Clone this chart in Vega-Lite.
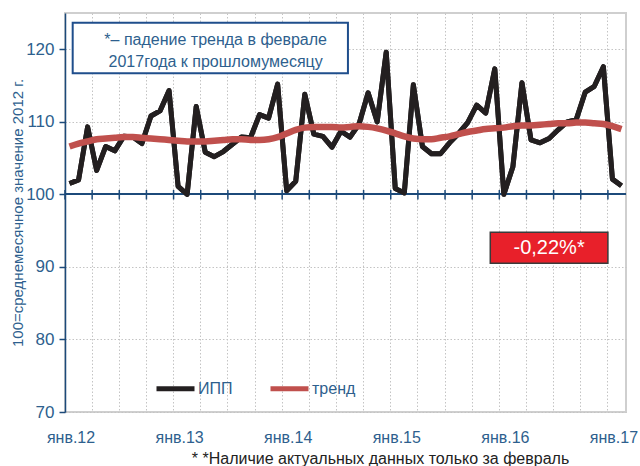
{
  "$schema": "https://vega.github.io/schema/vega-lite/v6.json",
  "width": 561,
  "height": 399,
  "autosize": {"type": "none"},
  "padding": {"left": 65, "top": 13, "right": 14, "bottom": 54},
  "background": "white",
  "config": {
    "font": "Liberation Sans",
    "view": {"stroke": "#cfcfcf", "strokeWidth": 2}
  },
  "title": {
    "text": "*  *Наличие актуальных данных только за февраль",
    "orient": "bottom",
    "anchor": "middle",
    "baseline": "top",
    "fontSize": 16,
    "fontWeight": "normal",
    "color": "#222222",
    "offset": 6,
    "dx": 35
  },
  "data": {
    "values": [
      {"month": "2012-01", "ipp": 101.5, "trend": 106.6},
      {"month": "2012-02", "ipp": 102.0, "trend": 107.0},
      {"month": "2012-03", "ipp": 109.3, "trend": 107.3},
      {"month": "2012-04", "ipp": 103.3, "trend": 107.6},
      {"month": "2012-05", "ipp": 106.6, "trend": 107.7},
      {"month": "2012-06", "ipp": 106.0, "trend": 107.8},
      {"month": "2012-07", "ipp": 108.0, "trend": 107.9},
      {"month": "2012-08", "ipp": 107.9, "trend": 107.9},
      {"month": "2012-09", "ipp": 107.0, "trend": 107.8},
      {"month": "2012-10", "ipp": 110.8, "trend": 107.7},
      {"month": "2012-11", "ipp": 111.5, "trend": 107.6},
      {"month": "2012-12", "ipp": 114.3, "trend": 107.5},
      {"month": "2013-01", "ipp": 101.1, "trend": 107.4},
      {"month": "2013-02", "ipp": 100.0, "trend": 107.3},
      {"month": "2013-03", "ipp": 112.1, "trend": 107.3},
      {"month": "2013-04", "ipp": 105.8, "trend": 107.3},
      {"month": "2013-05", "ipp": 105.2, "trend": 107.4},
      {"month": "2013-06", "ipp": 105.9, "trend": 107.5},
      {"month": "2013-07", "ipp": 106.9, "trend": 107.6},
      {"month": "2013-08", "ipp": 107.9, "trend": 107.6},
      {"month": "2013-09", "ipp": 107.8, "trend": 107.5},
      {"month": "2013-10", "ipp": 111.0, "trend": 107.5},
      {"month": "2013-11", "ipp": 110.5, "trend": 107.6},
      {"month": "2013-12", "ipp": 115.2, "trend": 107.9},
      {"month": "2014-01", "ipp": 100.5, "trend": 108.4},
      {"month": "2014-02", "ipp": 101.8, "trend": 108.9},
      {"month": "2014-03", "ipp": 113.8, "trend": 109.2},
      {"month": "2014-04", "ipp": 108.3, "trend": 109.3},
      {"month": "2014-05", "ipp": 108.0, "trend": 109.3},
      {"month": "2014-06", "ipp": 106.5, "trend": 109.3},
      {"month": "2014-07", "ipp": 108.7, "trend": 109.2},
      {"month": "2014-08", "ipp": 107.9, "trend": 109.3},
      {"month": "2014-09", "ipp": 109.7, "trend": 109.4},
      {"month": "2014-10", "ipp": 114.0, "trend": 109.3},
      {"month": "2014-11", "ipp": 110.0, "trend": 109.1},
      {"month": "2014-12", "ipp": 119.6, "trend": 108.8},
      {"month": "2015-01", "ipp": 100.8, "trend": 108.4},
      {"month": "2015-02", "ipp": 100.2, "trend": 108.0},
      {"month": "2015-03", "ipp": 115.1, "trend": 107.7},
      {"month": "2015-04", "ipp": 106.6, "trend": 107.6},
      {"month": "2015-05", "ipp": 105.6, "trend": 107.6},
      {"month": "2015-06", "ipp": 105.6, "trend": 107.8},
      {"month": "2015-07", "ipp": 107.1, "trend": 108.0},
      {"month": "2015-08", "ipp": 108.4, "trend": 108.3},
      {"month": "2015-09", "ipp": 109.9, "trend": 108.6},
      {"month": "2015-10", "ipp": 112.3, "trend": 108.8},
      {"month": "2015-11", "ipp": 111.2, "trend": 109.0},
      {"month": "2015-12", "ipp": 117.3, "trend": 109.1},
      {"month": "2016-01", "ipp": 100.0, "trend": 109.2},
      {"month": "2016-02", "ipp": 103.8, "trend": 109.4},
      {"month": "2016-03", "ipp": 115.4, "trend": 109.5},
      {"month": "2016-04", "ipp": 107.5, "trend": 109.5},
      {"month": "2016-05", "ipp": 107.1, "trend": 109.6},
      {"month": "2016-06", "ipp": 107.7, "trend": 109.7},
      {"month": "2016-07", "ipp": 108.9, "trend": 109.8},
      {"month": "2016-08", "ipp": 110.0, "trend": 109.8},
      {"month": "2016-09", "ipp": 110.3, "trend": 109.9},
      {"month": "2016-10", "ipp": 114.1, "trend": 109.9},
      {"month": "2016-11", "ipp": 114.9, "trend": 109.8},
      {"month": "2016-12", "ipp": 117.6, "trend": 109.7},
      {"month": "2017-01", "ipp": 102.1, "trend": 109.4},
      {"month": "2017-02", "ipp": 101.2, "trend": 109.0}
    ]
  },
  "layer": [
    {
      "mark": {"type": "line", "strokeWidth": 5, "strokeJoin": "round"},
      "encoding": {
        "x": {
          "field": "month", "type": "ordinal", "bandPosition": 0.5,
          "scale": {"type": "band", "paddingInner": 0, "paddingOuter": 0},
          "axis": {
            "orient": "bottom",
            "values": ["2012-01","2012-04","2012-07","2012-10","2013-01","2013-04","2013-07","2013-10","2014-01","2014-04","2014-07","2014-10","2015-01","2015-04","2015-07","2015-10","2016-01","2016-04","2016-07","2016-10","2017-01"],
            "bandPosition": 0,
            "title": null,
            "domain": false,
            "ticks": false,
            "tickSize": 0,
            "grid": true,
            "gridColor": "#c4c4c4",
            "gridDash": [1.5, 2],
            "gridWidth": 1,
            "labelExpr": "substring(datum.value, 5, 7) == '01' ? 'янв.' + substring(datum.value, 2, 4) : ''",
            "labelAngle": 0,
            "labelOffset": 1.5,
            "labelPadding": 17,
            "labelFontSize": 16,
            "labelColor": "#2e5f8e",
            "labelOverlap": false,
            "labelFlush": false,
            "labelBound": false
          }
        },
        "y": {
          "field": "ipp",
          "type": "quantitative",
          "scale": {"domain": [70, 125], "nice": false, "zero": false},
          "axis": {
            "values": [70, 80, 90, 100, 110, 120],
            "title": "100=среднемесячное значение 2012 г.",
            "titleFontSize": 15,
            "titleFontWeight": "normal",
            "titleColor": "#2e5f8e",
            "titleX": -48,
            "titleBaseline": "middle",
            "grid": true,
            "gridColor": "#c4c4c4",
            "gridDash": [1.5, 2],
            "gridWidth": 1,
            "domainColor": "#1c4a7a",
            "domainWidth": 1.5,
            "tickColor": "#1c4a7a",
            "tickWidth": 1.5,
            "tickSize": 6,
            "labelFontSize": 17,
            "labelColor": "#2e5f8e",
            "labelPadding": 5
          }
        },
        "color": {
          "datum": "ИПП",
          "scale": {"domain": ["ИПП", "тренд"], "range": ["#231f20", "#c0504d"]},
          "legend": {
            "orient": "none",
            "legendX": 89,
            "legendY": 354,
            "direction": "horizontal",
            "title": null,
            "symbolType": "stroke",
            "symbolStrokeWidth": 5,
            "symbolSize": 1444,
            "labelFontSize": 16,
            "labelColor": "#2e5f8e",
            "labelOffset": 1,
            "columnPadding": 27,
            "padding": 0
          }
        }
      }
    },
    {
      "mark": {"type": "rule", "color": "#1c4a7a", "strokeWidth": 1.5},
      "encoding": {
        "y": {"datum": 100, "type": "quantitative"}
      }
    },
    {
      "transform": [{"filter": "indexof(['01','04','07','10'], substring(datum.month, 5, 7)) >= 0"}],
      "mark": {"type": "rule", "color": "#1c4a7a", "strokeWidth": 1.5},
      "encoding": {
        "x": {"field": "month", "type": "ordinal", "bandPosition": 0},
        "y": {"datum": 99.3, "type": "quantitative"},
        "y2": {"datum": 100.6}
      }
    },
    {
      "mark": {"type": "line", "strokeWidth": 5, "strokeJoin": "round", "color": "#231f20"},
      "encoding": {
        "x": {"field": "month", "type": "ordinal", "bandPosition": 0.5},
        "y": {"field": "ipp", "type": "quantitative"}
      }
    },
    {
      "mark": {"type": "line", "strokeWidth": 6.5, "interpolate": "monotone"},
      "encoding": {
        "x": {"field": "month", "type": "ordinal", "bandPosition": 0.5},
        "y": {"field": "trend", "type": "quantitative"},
        "color": {"datum": "тренд"}
      }
    },
    {
      "data": {"values": [{"note": "box"}]},
      "mark": {"type": "rect", "fill": "white", "stroke": "#1f4e8c", "strokeWidth": 2},
      "encoding": {
        "x": {"datum": "2012-01", "type": "ordinal", "bandPosition": 0.85},
        "x2": {"datum": "2014-08", "bandPosition": 0.27},
        "y": {"datum": 123.66, "type": "quantitative"},
        "y2": {"datum": 116.69}
      }
    },
    {
      "data": {"values": [{"line": "*– падение тренда в феврале"}]},
      "mark": {"type": "text", "fontSize": 16, "color": "#2e5f8e", "align": "center", "baseline": "middle"},
      "encoding": {
        "x": {"datum": "2013-05", "type": "ordinal", "bandPosition": 0.65},
        "y": {"datum": 121.28, "type": "quantitative"},
        "text": {"field": "line"}
      }
    },
    {
      "data": {"values": [{"line": "2017года к прошломумесяцу"}]},
      "mark": {"type": "text", "fontSize": 16, "color": "#2e5f8e", "align": "center", "baseline": "middle"},
      "encoding": {
        "x": {"datum": "2013-05", "type": "ordinal", "bandPosition": 0.65},
        "y": {"datum": 118.18, "type": "quantitative"},
        "text": {"field": "line"}
      }
    },
    {
      "data": {"values": [{"note": "badge"}]},
      "mark": {"type": "rect", "fill": "#e8202a", "stroke": "#3a3a3a", "strokeWidth": 1.5},
      "encoding": {
        "x": {"datum": "2015-12", "type": "ordinal", "bandPosition": 0},
        "x2": {"datum": "2017-01", "bandPosition": 0},
        "y": {"datum": 94.77, "type": "quantitative"},
        "y2": {"datum": 90.5}
      }
    },
    {
      "data": {"values": [{"label": "-0,22%*"}]},
      "mark": {"type": "text", "fontSize": 20, "color": "white", "align": "center", "baseline": "middle"},
      "encoding": {
        "x": {"datum": "2016-06", "type": "ordinal", "bandPosition": 0.5},
        "y": {"datum": 92.64, "type": "quantitative"},
        "text": {"field": "label"}
      }
    }
  ]
}
